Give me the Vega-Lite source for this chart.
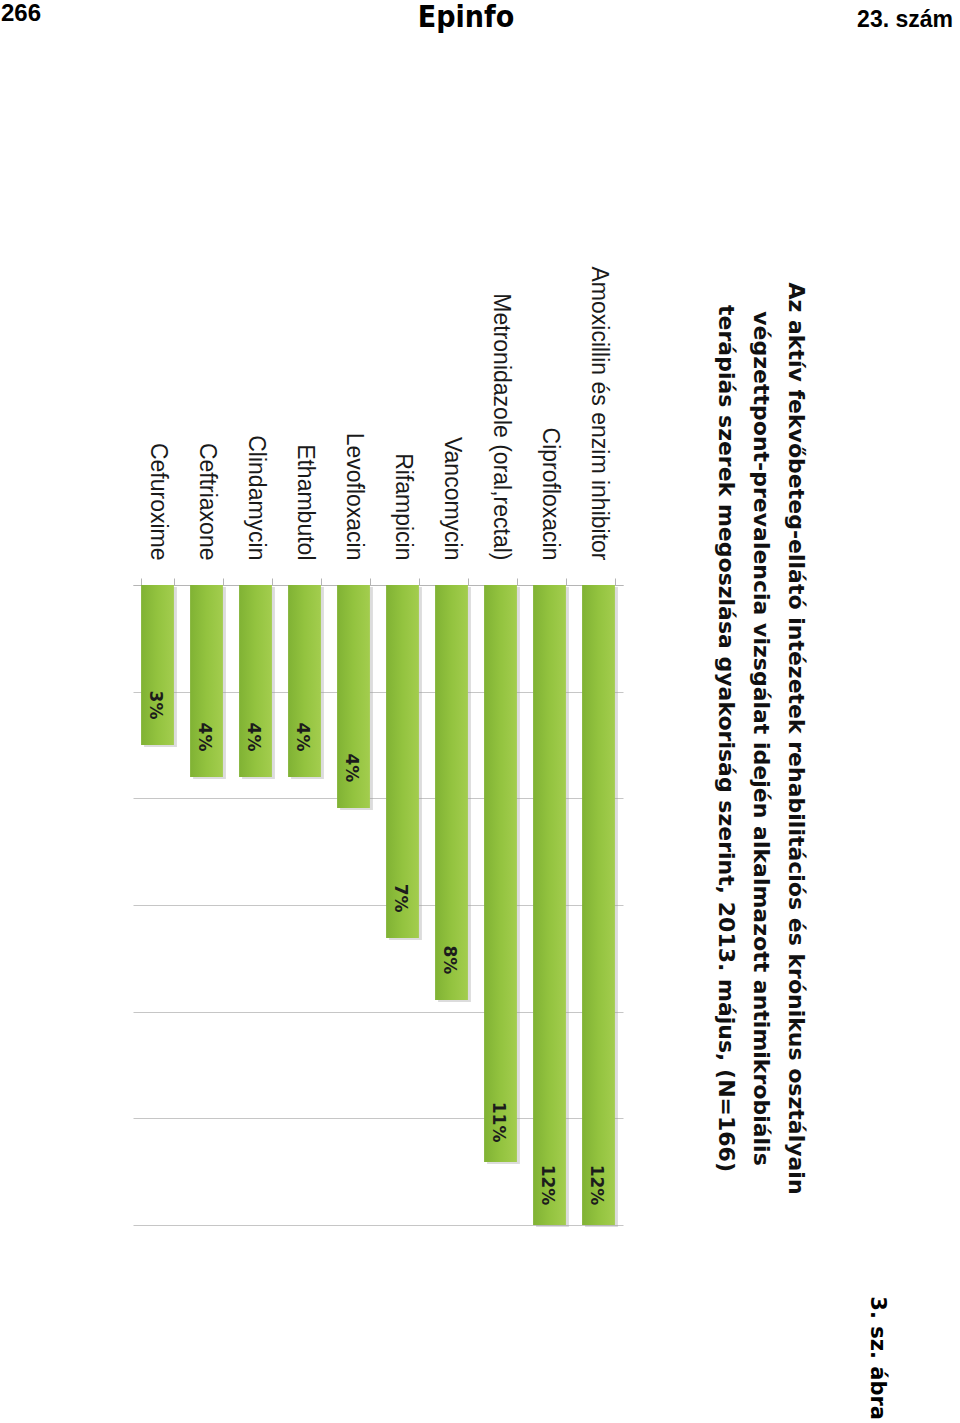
{
  "$schema": "https://vega.github.io/schema/vega-lite/v6.json",
  "padding": 0,
  "background": "white",
  "spacing": 233,
  "config": {"view": {"stroke": null}},
  "vconcat": [
    {
      "width": 960,
      "height": 30,
      "data": {"values": [
        {"t": "266", "slot": "left"},
        {"t": "Epinfo", "slot": "center"},
        {"t": "23. szám", "slot": "right"}
      ]},
      "encoding": {
        "x": {"field": "slot", "type": "nominal", "scale": {"type": "point", "domain": ["left", "center", "right"], "padding": 0}, "axis": null},
        "text": {"field": "t"}
      },
      "layer": [
        {"transform": [{"filter": "datum.slot === 'left'"}],
         "mark": {"type": "text", "align": "left", "baseline": "alphabetic", "dy": 6, "dx": -132, "font": "Liberation Sans", "fontWeight": "bold", "fontSize": 24, "color": "#000000"}},
        {"transform": [{"filter": "datum.slot === 'center'"}],
         "mark": {"type": "text", "align": "center", "baseline": "alphabetic", "dy": 12, "dx": -147, "font": "DejaVu Sans Condensed, DejaVu Sans", "fontWeight": "bold", "fontSize": 30, "color": "#000000"}},
        {"transform": [{"filter": "datum.slot === 'right'"}],
         "mark": {"type": "text", "align": "right", "baseline": "alphabetic", "dy": 12, "dx": -140, "font": "Liberation Sans", "fontWeight": "bold", "fontSize": 23, "color": "#000000"}}
      ]
    },
    {
      "width": 490,
      "height": 640,
      "title": {
        "text": "3. sz. ábra",
        "orient": "right",
        "anchor": "end",
        "frame": "group",
        "offset": 61,
        "dx": 195,
        "font": "DejaVu Sans",
        "fontWeight": "bold",
        "fontSize": 21,
        "color": "#000000"
      },
      "data": {"values": [
        {"drug": "Amoxicillin és enzim inhibitor", "value": 12.0, "label": "12%"},
        {"drug": "Ciprofloxacin", "value": 12.0, "label": "12%"},
        {"drug": "Metronidazole (oral,rectal)", "value": 10.82, "label": "11%"},
        {"drug": "Vancomycin", "value": 7.78, "label": "8%"},
        {"drug": "Rifampicin", "value": 6.62, "label": "7%"},
        {"drug": "Levofloxacin", "value": 4.18, "label": "4%"},
        {"drug": "Ethambutol", "value": 3.6, "label": "4%"},
        {"drug": "Clindamycin", "value": 3.6, "label": "4%"},
        {"drug": "Ceftriaxone", "value": 3.6, "label": "4%"},
        {"drug": "Cefuroxime", "value": 3.0, "label": "3%"}
      ]},
      "encoding": {
        "x": {
          "field": "drug",
          "type": "nominal",
          "sort": ["Cefuroxime", "Ceftriaxone", "Clindamycin", "Ethambutol", "Levofloxacin", "Rifampicin", "Vancomycin", "Metronidazole (oral,rectal)", "Ciprofloxacin", "Amoxicillin és enzim inhibitor"],
          "scale": {"paddingInner": 0.33, "paddingOuter": 0.165},
          "axis": {
            "orient": "top",
            "title": null,
            "labelAngle": 90,
            "labelAlign": "right",
            "labelBaseline": "middle",
            "labelFont": "Liberation Sans",
            "labelFontSize": 23,
            "labelColor": "#1a1a1a",
            "labelPadding": 18,
            "labelLimit": 600,
            "tickBand": "extent",
            "tickSize": 7,
            "tickColor": "#b5b5b5",
            "domainColor": "#b5b5b5",
            "grid": false
          }
        }
      },
      "layer": [
        {
          "mark": {"type": "bar", "color": "#9a9a9a", "opacity": 0.35, "xOffset": 3, "yOffset": 2},
          "encoding": {
            "y": {
              "field": "value",
              "type": "quantitative",
              "scale": {"domain": [0, 12], "reverse": true, "nice": false},
              "axis": {
                "orient": "left",
                "title": null,
                "labels": false,
                "ticks": false,
                "domain": false,
                "grid": true,
                "gridColor": "#c6c6c6",
                "values": [0, 2, 4, 6, 8, 10, 12],
                "minExtent": 133,
                "maxExtent": 133
              }
            }
          }
        },
        {
          "mark": {
            "type": "bar",
            "color": {
              "gradient": "linear",
              "x1": 0, "y1": 0, "x2": 1, "y2": 0,
              "stops": [
                {"offset": 0, "color": "#80b234"},
                {"offset": 0.5, "color": "#93c33f"},
                {"offset": 1, "color": "#a3cd4e"}
              ]
            }
          },
          "encoding": {
            "y": {
              "field": "value",
              "type": "quantitative",
              "scale": {"domain": [0, 12], "reverse": true, "nice": false},
              "axis": null
            }
          }
        },
        {
          "mark": {
            "type": "text",
            "angle": 90,
            "align": "center",
            "baseline": "middle",
            "yOffset": -40,
            "xOffset": -3,
            "font": "DejaVu Sans",
            "fontWeight": "bold",
            "fontSize": 17,
            "color": "#1c1c1c"
          },
          "encoding": {
            "y": {
              "field": "value",
              "type": "quantitative",
              "scale": {"domain": [0, 12], "reverse": true, "nice": false},
              "axis": {
                "orient": "right",
                "labels": false,
                "ticks": false,
                "domain": false,
                "grid": false,
                "title": [
                  "Az aktív fekvőbeteg-ellátó intézetek rehabilitációs és krónikus osztályain",
                  "végzettpont-prevalencia vizsgálat idején alkalmazott antimikrobiális",
                  "terápiás szerek megoszlása gyakoriság szerint, 2013. május, (N=166)"
                ],
                "titleFont": "DejaVu Sans",
                "titleFontWeight": "bold",
                "titleFontSize": 22,
                "titleLineHeight": 35,
                "titleColor": "#111111",
                "titleAngle": 90,
                "titleAlign": "center",
                "titleBaseline": "bottom",
                "titleY": 153,
                "titlePadding": 90
              }
            },
            "text": {"field": "label"}
          }
        }
      ],
      "resolve": {"axis": {"y": "independent"}}
    }
  ]
}
